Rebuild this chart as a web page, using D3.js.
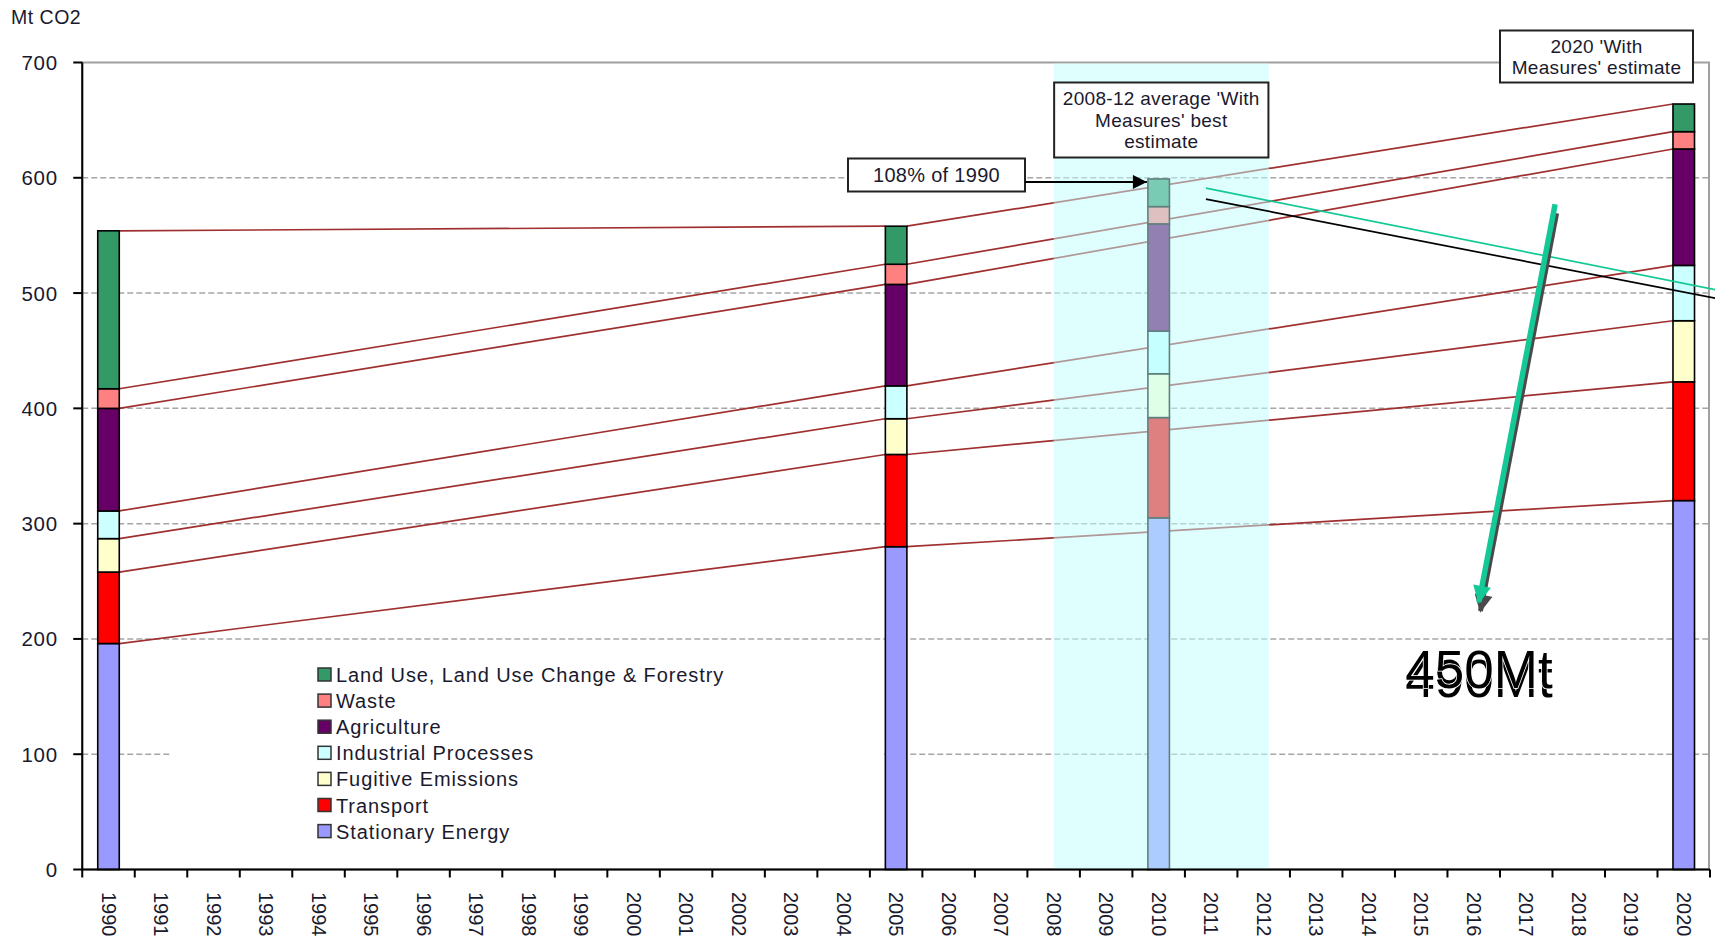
<!DOCTYPE html>
<html>
<head>
<meta charset="utf-8">
<script src="https://cdn.jsdelivr.net/npm/d3@7"></script>
<style>
  html, body { margin: 0; padding: 0; background: #fff; }
  svg { display: block; font-family: "Liberation Sans", Arial, sans-serif; }
</style>
</head>
<body>
<svg id="chart" width="1715" height="941"></svg>
<script>
// ---- Data -------------------------------------------------------------
const years = [1990, 1991, 1992, 1993, 1994, 1995, 1996, 1997, 1998, 1999,
               2000, 2001, 2002, 2003, 2004, 2005, 2006, 2007, 2008, 2009,
               2010, 2011, 2012, 2013, 2014, 2015, 2016, 2017, 2018, 2019, 2020];
const barYears = [1990, 2005, 2010, 2020];

// Emissions by sector, Mt CO2-e (bottom of stack first)
const stationaryEnergy    = [196, 280, 305, 320];
const transport           = [62, 80, 87, 103];
const fugitiveEmissions   = [29, 31, 38, 53];
const industrialProcesses = [24, 28.5, 37, 48];
const agriculture         = [89, 88, 93, 101];
const waste               = [17, 17.5, 15, 15];
const landUse             = [137, 33, 24, 24];

const seriesNames = ["Stationary Energy", "Transport", "Fugitive Emissions",
  "Industrial Processes", "Agriculture", "Waste", "Land Use, Land Use Change & Forestry"];
const seriesValues = [stationaryEnergy, transport, fugitiveEmissions,
  industrialProcesses, agriculture, waste, landUse];
const seriesColors = ["#9999ff", "#ff0000", "#ffffcc", "#ccffff", "#660066", "#ff8080", "#339966"];

const yTicks = [0, 100, 200, 300, 400, 500, 600, 700];
const seriesLinePairs = [[1990, 2005], [2005, 2020]];
const averagePeriod = [2008, 2012.1];            // shaded 2008-12 period
const percentOf1990 = 108;
const trendGreen = [[2010.9, 591], [2020.6, 503]];
const trendBlack = [[2010.9, 581.5], [2020.6, 495.5]];
const reductionArrow = [[2017.55, 577], [2016.1, 232]];
const targetLabels = ["490Mt", "450Mt"];

// ---- Layout ------------------------------------------------------------
const svg = d3.select("#chart");
const plotLeft = 82.25, plotRight = 1710, plotTop = 62.5, plotBottom = 869.5;

const x = d3.scaleBand().domain(years).range([plotLeft, plotRight])
  .paddingInner(0.59).paddingOuter(0.295);
const step = x.step();
const yearX = d3.scaleLinear().domain([1989.5, 2020.5]).range([plotLeft, plotRight]);
const y = d3.scaleLinear().domain([0, 700]).range([plotBottom, plotTop]);

// stacked data
const rows = barYears.map((yr, i) => {
  const r = { year: yr };
  seriesNames.forEach((n, k) => r[n] = seriesValues[k][i]);
  return r;
});
const stacked = d3.stack().keys(seriesNames)(rows);

// ---- Gridlines & plot frame -------------------------------------------
svg.append("g").selectAll("line").data(yTicks.filter(t => t > 0 && t < 700)).join("line")
  .attr("x1", plotLeft).attr("x2", plotRight - 1)
  .attr("y1", d => y(d)).attr("y2", d => y(d))
  .attr("stroke", "#a6a6a6").attr("stroke-width", 1.5).attr("stroke-dasharray", "6,3");

svg.append("rect")
  .attr("x", plotLeft).attr("y", y(700)).attr("width", plotRight - 1 - plotLeft).attr("height", y(0) - y(700))
  .attr("fill", "none").attr("stroke", "#a0a0a0").attr("stroke-width", 2);

// legend backdrop hides gridline behind it
svg.append("rect").attr("x", 170).attr("y", 650).attr("width", 714).attr("height", 202).attr("fill", "#fff");

// ---- Series lines between columns -------------------------------------
const sl = svg.append("g");
stacked.forEach(layer => {
  seriesLinePairs.forEach(([a, b]) => {
    const ia = barYears.indexOf(a), ib = barYears.indexOf(b);
    sl.append("line")
      .attr("x1", x(a) + x.bandwidth()).attr("y1", y(layer[ia][1]))
      .attr("x2", x(b)).attr("y2", y(layer[ib][1]))
      .attr("stroke", "#a03030").attr("stroke-width", 1.7);
  });
});

// ---- Bars ---------------------------------------------------------------
const bars = svg.append("g");
stacked.forEach((layer, k) => {
  bars.selectAll(null).data(layer).join("rect")
    .attr("x", d => x(d.data.year))
    .attr("y", d => y(d[1]))
    .attr("width", x.bandwidth())
    .attr("height", d => y(d[0]) - y(d[1]))
    .attr("fill", seriesColors[k])
    .attr("stroke", "#000").attr("stroke-width", 1.6);
});

// ---- 2008-12 shaded period (translucent overlay) ----------------------
svg.append("rect")
  .attr("x", yearX(averagePeriod[0])).attr("y", y(700) + 1)
  .attr("width", yearX(averagePeriod[1]) - yearX(averagePeriod[0]))
  .attr("height", y(0) - y(700) - 1)
  .attr("fill", "#c0ffff").attr("opacity", 0.5);

// ---- Axes ---------------------------------------------------------------
const axes = svg.append("g");
axes.append("line").attr("x1", plotLeft).attr("x2", plotLeft).attr("y1", y(700)).attr("y2", y(0) + 1)
  .attr("stroke", "#000").attr("stroke-width", 2);
axes.append("line").attr("x1", plotLeft - 1).attr("x2", plotRight).attr("y1", y(0)).attr("y2", y(0))
  .attr("stroke", "#000").attr("stroke-width", 2);
axes.selectAll(".yt").data(yTicks).join("line")
  .attr("x1", plotLeft - 9).attr("x2", plotLeft).attr("y1", d => y(d)).attr("y2", d => y(d))
  .attr("stroke", "#000").attr("stroke-width", 2);
axes.selectAll(".ytl").data(yTicks).join("text")
  .attr("x", 58).attr("y", d => y(d))
  .attr("text-anchor", "end").attr("dominant-baseline", "central")
  .attr("font-size", 20.5).attr("letter-spacing", 0.8).attr("fill", "#1a1a2e")
  .text(d => d);
axes.selectAll(".xt").data(d3.range(years.length + 1)).join("line")
  .attr("x1", i => plotLeft + i * step).attr("x2", i => plotLeft + i * step)
  .attr("y1", y(0)).attr("y2", y(0) + 8)
  .attr("stroke", "#000").attr("stroke-width", 2);
axes.selectAll(".xtl").data(years).join("text")
  .attr("transform", d => `translate(${x(d) + x.bandwidth() / 2},${892}) rotate(90)`)
  .attr("text-anchor", "start").attr("dominant-baseline", "central")
  .attr("font-size", 20).attr("fill", "#1a1a2e")
  .text(d => d);

svg.append("text").attr("x", 11).attr("y", 24)
  .attr("font-size", 19.5).attr("letter-spacing", 0.5).attr("fill", "#1a1a2e").text("Mt CO2");

// ---- Annotations --------------------------------------------------------
svg.append("defs").html(`
  <marker id="headBlack" viewBox="0 0 10 10" refX="10" refY="5" markerWidth="15" markerHeight="14" markerUnits="userSpaceOnUse" orient="auto">
    <path d="M0,0 L10,5 L0,10 z" fill="#000"/></marker>
  <marker id="headGreen" viewBox="0 0 10 10" refX="9" refY="5" markerWidth="19" markerHeight="18" markerUnits="userSpaceOnUse" orient="auto">
    <path d="M0,0 L10,5 L0,10 z" fill="#14c996"/></marker>
  <marker id="headShadow" viewBox="0 0 10 10" refX="9" refY="5" markerWidth="19" markerHeight="18" markerUnits="userSpaceOnUse" orient="auto">
    <path d="M0,0 L10,5 L0,10 z" fill="#4a4a4a"/></marker>`);

function boxLabel(cx, y0, w, h, lines, fs, lh) {
  const g = svg.append("g");
  g.append("rect").attr("x", cx - w / 2).attr("y", y0).attr("width", w).attr("height", h)
    .attr("fill", "#fff").attr("stroke", "#222").attr("stroke-width", 2);
  const startY = y0 + h / 2 - (lines.length - 1) * lh / 2;
  lines.forEach((t, i) => g.append("text")
    .attr("x", cx).attr("y", startY + i * lh)
    .attr("text-anchor", "middle").attr("dominant-baseline", "central")
    .attr("font-size", fs).attr("letter-spacing", 0.3).attr("fill", "#1a1a2e").text(t));
}

// 108% of 1990 pointer to the 2008-12 average
const i2010 = barYears.indexOf(2010);
const total2010 = stacked[stacked.length - 1][i2010][1];
boxLabel(936.5, 158.5, 177, 33, [`${percentOf1990}% of 1990`], 20, 20);
svg.append("line")
  .attr("x1", 1025).attr("y1", y(total2010) + 3)
  .attr("x2", x(2010) - 1).attr("y2", y(total2010) + 3)
  .attr("stroke", "#000").attr("stroke-width", 2).attr("marker-end", "url(#headBlack)");

const midPeriod = (yearX(averagePeriod[0]) + yearX(averagePeriod[1])) / 2;
boxLabel(midPeriod, 82.5, yearX(averagePeriod[1]) - yearX(averagePeriod[0]) - 1, 75,
  ["2008-12 average 'With", "Measures' best", "estimate"], 19, 21.5);
boxLabel(1596.5, 30.5, 193, 52, ["2020 'With", "Measures' estimate"], 19, 21);

// projection lines
[[trendGreen, "#14c996"], [trendBlack, "#000"]].forEach(([pts, c]) => {
  svg.append("line")
    .attr("x1", yearX(pts[0][0])).attr("y1", y(pts[0][1]))
    .attr("x2", yearX(pts[1][0])).attr("y2", y(pts[1][1]))
    .attr("stroke", c).attr("stroke-width", 1.7);
});

// reduction arrow with drop shadow
const [ra, rb] = reductionArrow;
svg.append("line")
  .attr("x1", yearX(ra[0]) + 1.5).attr("y1", y(ra[1]) + 9)
  .attr("x2", yearX(rb[0]) + 1.5).attr("y2", y(rb[1]) + 9)
  .attr("stroke", "#4a4a4a").attr("stroke-width", 5).attr("marker-end", "url(#headShadow)");
svg.append("line")
  .attr("x1", yearX(ra[0])).attr("y1", y(ra[1]))
  .attr("x2", yearX(rb[0])).attr("y2", y(rb[1]))
  .attr("stroke", "#14c996").attr("stroke-width", 5.5).attr("marker-end", "url(#headGreen)");

// target labels (overprinted, slightly offset)
svg.append("text").attr("x", 1479).attr("y", 697).attr("text-anchor", "middle")
  .attr("font-size", 53).attr("fill", "#000").text(targetLabels[0]);
svg.append("text").attr("x", 1479).attr("y", 688).attr("text-anchor", "middle")
  .attr("font-size", 53).attr("fill", "#000")
  .attr("stroke", "#fff").attr("stroke-width", 1.5).attr("paint-order", "stroke")
  .text(targetLabels[1]);

// ---- Legend -------------------------------------------------------------
const legend = svg.append("g");
const legendOrder = d3.range(seriesNames.length).reverse();
legendOrder.forEach((k, i) => {
  const cy = 675 + i * 26.1;
  legend.append("rect").attr("x", 318).attr("y", cy - 7).attr("width", 13).attr("height", 13)
    .attr("fill", seriesColors[k]).attr("stroke", "#333").attr("stroke-width", 1.5);
  legend.append("text").attr("x", 336).attr("y", cy)
    .attr("dominant-baseline", "central").attr("font-size", 20).attr("letter-spacing", 0.9)
    .attr("fill", "#1a1a2e").text(seriesNames[k]);
});
</script>
</body>
</html>
